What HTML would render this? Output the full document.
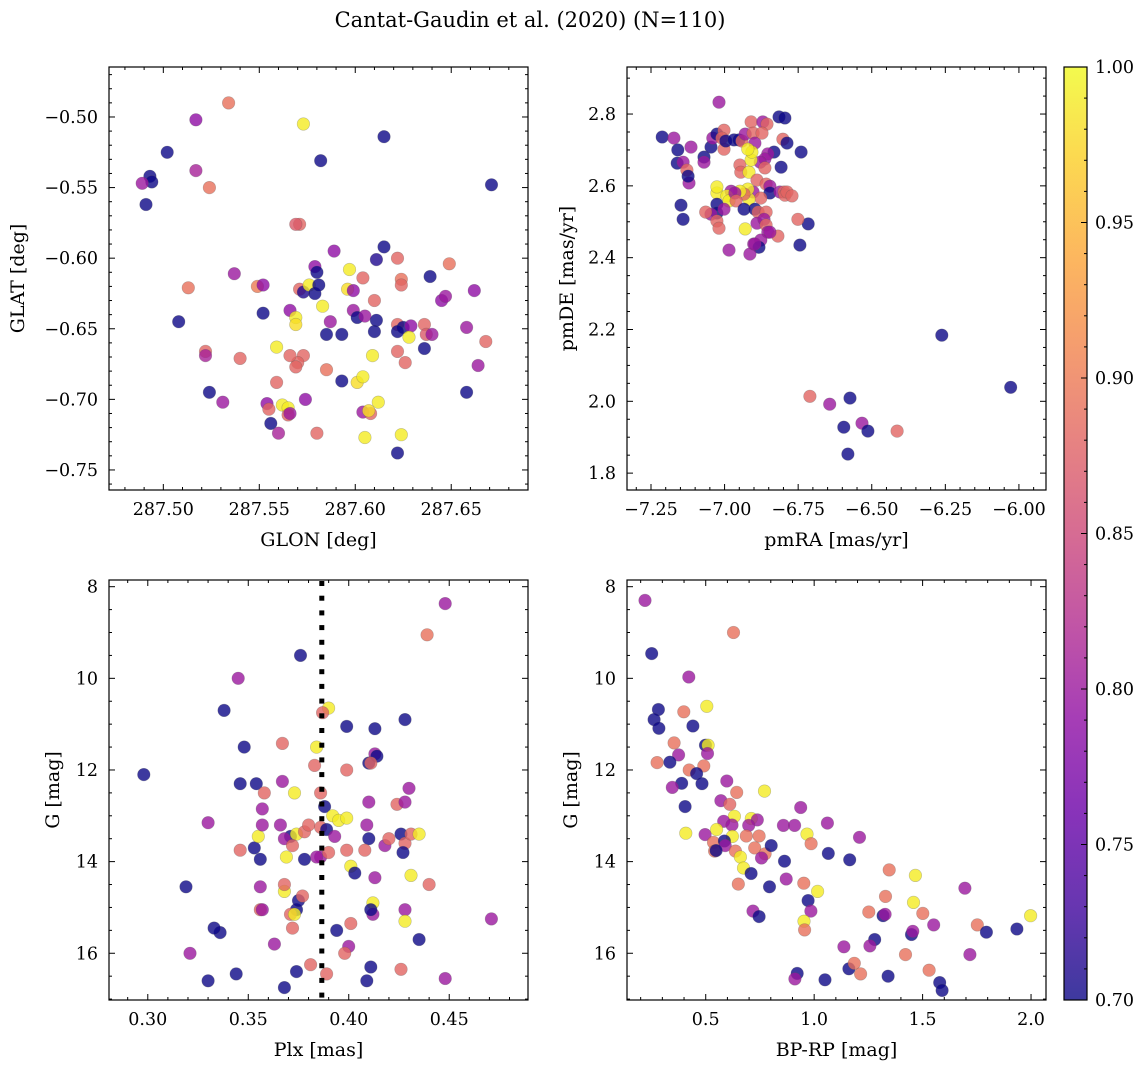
<!DOCTYPE html>
<html><head><meta charset="utf-8"><style>
html,body{margin:0;padding:0;background:#fff;}
svg{display:block;font-family:"DejaVu Serif","Liberation Serif",serif;}
</style></head><body>
<svg id="fig" width="1148" height="1067" viewBox="0 0 1148 1067">
<defs>
<linearGradient id="plasma" x1="0" y1="1" x2="0" y2="0">
<stop offset="0" stop-color="#0d0887"/><stop offset="0.1" stop-color="#41049d"/><stop offset="0.2" stop-color="#6a00a8"/><stop offset="0.3" stop-color="#8f0da4"/><stop offset="0.4" stop-color="#b12a90"/><stop offset="0.5" stop-color="#cc4778"/><stop offset="0.6" stop-color="#e16462"/><stop offset="0.7" stop-color="#f2844b"/><stop offset="0.8" stop-color="#fca636"/><stop offset="0.9" stop-color="#fcce25"/><stop offset="1" stop-color="#f0f921"/>
</linearGradient>
</defs>
<text x="530" y="27" font-size="21" text-anchor="middle">Cantat-Gaudin et al. (2020) (N=110)</text>
</svg>
<script>
// ---- data ----
const p1Glon=[287.534,287.517,287.573,287.502,287.493,287.494,287.489,287.491,287.517,287.524,287.615,287.582,287.671,287.571,287.569,287.589,287.615,287.611,287.622,287.649,287.537,287.579,287.580,287.597,287.604,287.624,287.624,287.639,287.513,287.549,287.552,287.571,287.573,287.576,287.579,287.581,287.596,287.599,287.645,287.647,287.662,287.566,287.569,287.552,287.583,287.599,287.610,287.601,287.605,287.611,287.622,287.625,287.622,287.636,287.637,287.640,287.629,287.569,287.587,287.585,287.508,287.593,287.610,287.628,287.622,287.636,287.658,287.668,287.664,287.522,287.522,287.540,287.573,287.570,287.569,287.566,287.559,287.585,287.609,287.626,287.593,287.601,287.604,287.559,287.524,287.604,287.608,287.612,287.607,287.531,287.554,287.555,287.562,287.565,287.565,287.574,287.556,287.566,287.580,287.560,287.605,287.624,287.622,287.658];
const p1Glat=[-0.490,-0.502,-0.505,-0.525,-0.542,-0.546,-0.547,-0.562,-0.538,-0.550,-0.514,-0.531,-0.548,-0.576,-0.576,-0.595,-0.592,-0.601,-0.600,-0.604,-0.611,-0.606,-0.610,-0.608,-0.614,-0.615,-0.619,-0.613,-0.621,-0.620,-0.619,-0.622,-0.624,-0.619,-0.625,-0.619,-0.622,-0.623,-0.630,-0.627,-0.623,-0.637,-0.642,-0.639,-0.634,-0.637,-0.630,-0.642,-0.641,-0.644,-0.647,-0.649,-0.652,-0.647,-0.654,-0.654,-0.648,-0.647,-0.645,-0.654,-0.645,-0.654,-0.652,-0.656,-0.666,-0.664,-0.649,-0.659,-0.676,-0.666,-0.669,-0.671,-0.669,-0.674,-0.677,-0.669,-0.663,-0.679,-0.669,-0.674,-0.687,-0.688,-0.684,-0.688,-0.695,-0.709,-0.710,-0.702,-0.708,-0.702,-0.703,-0.707,-0.704,-0.706,-0.711,-0.700,-0.717,-0.710,-0.724,-0.724,-0.727,-0.725,-0.738,-0.695];
const p1Prob=[0.89,0.79,0.99,0.70,0.70,0.70,0.80,0.70,0.81,0.89,0.70,0.70,0.70,0.88,0.87,0.79,0.70,0.71,0.88,0.89,0.80,0.79,0.70,0.99,0.88,0.89,0.88,0.70,0.89,0.90,0.79,0.88,0.71,0.99,0.70,0.70,0.98,0.79,0.79,0.80,0.79,0.79,0.99,0.70,0.99,0.80,0.88,0.70,0.80,0.70,0.88,0.70,0.70,0.88,0.87,0.80,0.79,0.98,0.80,0.70,0.70,0.70,0.70,0.99,0.88,0.70,0.80,0.88,0.80,0.88,0.81,0.88,0.88,0.88,0.88,0.88,0.99,0.89,0.99,0.88,0.70,0.98,0.99,0.88,0.70,0.80,0.88,0.99,0.98,0.80,0.79,0.88,0.99,0.99,0.88,0.79,0.70,0.80,0.88,0.81,0.99,0.99,0.70,0.70];

const p2Pmra=[-7.019,-7.212,-7.172,-7.159,-7.161,-7.141,-7.114,-7.128,-7.121,-7.124,-7.148,-7.141,-7.070,-7.070,-7.046,-7.040,-7.026,-7.002,-7.002,-7.009,-6.996,-6.968,-6.951,-6.941,-6.930,-6.910,-6.903,-6.897,-6.870,-6.856,-6.873,-6.815,-6.795,-6.802,-6.788,-6.832,-6.740,-6.853,-6.863,-6.879,-6.808,-6.863,-6.948,-6.945,-6.917,-6.910,-6.907,-6.921,-6.890,-6.859,-6.846,-6.846,-6.812,-6.798,-6.795,-6.788,-6.771,-6.903,-6.877,-6.917,-6.921,-6.934,-6.948,-6.978,-7.026,-7.026,-6.992,-6.985,-6.965,-6.961,-7.026,-7.026,-7.002,-7.046,-7.064,-7.026,-7.019,-6.934,-6.897,-6.886,-6.890,-6.859,-6.866,-6.859,-6.853,-6.819,-6.846,-6.930,-6.901,-6.877,-6.883,-6.914,-6.897,-6.985,-6.716,-6.744,-6.751,-6.262,-6.028,-6.710,-6.643,-6.574,-6.533,-6.595,-6.513,-6.414,-6.581];
const p2Pmde=[2.833,2.736,2.733,2.700,2.663,2.666,2.708,2.644,2.608,2.627,2.546,2.507,2.680,2.666,2.708,2.733,2.744,2.755,2.702,2.733,2.725,2.728,2.728,2.725,2.744,2.778,2.747,2.719,2.778,2.772,2.747,2.792,2.789,2.730,2.719,2.694,2.694,2.689,2.675,2.666,2.652,2.650,2.658,2.638,2.638,2.672,2.694,2.702,2.616,2.605,2.599,2.580,2.583,2.583,2.574,2.583,2.572,2.583,2.566,2.563,2.591,2.577,2.585,2.585,2.580,2.597,2.572,2.558,2.580,2.558,2.549,2.524,2.535,2.521,2.527,2.502,2.482,2.535,2.535,2.527,2.496,2.527,2.507,2.491,2.471,2.460,2.471,2.480,2.438,2.449,2.429,2.410,2.438,2.421,2.494,2.435,2.507,2.184,2.039,2.014,1.992,2.009,1.939,1.928,1.917,1.917,1.853];
const p2Prob=[0.80,0.70,0.80,0.70,0.70,0.80,0.80,0.88,0.80,0.70,0.70,0.70,0.70,0.80,0.70,0.80,0.70,0.88,0.88,0.88,0.70,0.70,0.70,0.88,0.80,0.88,0.88,0.80,0.80,0.88,0.88,0.70,0.70,0.88,0.70,0.70,0.70,0.80,0.80,0.80,0.70,0.88,0.88,0.88,0.99,0.99,0.99,0.99,0.88,0.88,0.80,0.70,0.80,0.88,0.88,0.88,0.88,0.80,0.88,0.99,0.99,0.88,0.99,0.80,0.99,0.99,0.99,0.99,0.80,0.88,0.70,0.70,0.80,0.80,0.88,0.88,0.88,0.70,0.70,0.88,0.80,0.88,0.80,0.88,0.80,0.88,0.80,0.99,0.80,0.80,0.70,0.80,0.80,0.80,0.70,0.70,0.88,0.70,0.70,0.88,0.80,0.70,0.80,0.70,0.70,0.88,0.70];

const p3Plx=[0.448,0.439,0.376,0.345,0.390,0.387,0.338,0.399,0.413,0.348,0.367,0.384,0.413,0.414,0.428,0.298,0.383,0.399,0.410,0.411,0.346,0.354,0.358,0.373,0.386,0.430,0.367,0.388,0.357,0.424,0.428,0.330,0.366,0.371,0.368,0.374,0.378,0.380,0.386,0.389,0.392,0.395,0.399,0.393,0.409,0.410,0.418,0.420,0.426,0.428,0.431,0.435,0.427,0.386,0.390,0.399,0.408,0.401,0.403,0.413,0.440,0.431,0.412,0.428,0.412,0.428,0.411,0.435,0.401,0.394,0.400,0.398,0.426,0.411,0.448,0.409,0.471,0.381,0.389,0.374,0.368,0.344,0.330,0.321,0.319,0.336,0.333,0.363,0.356,0.357,0.374,0.372,0.371,0.373,0.375,0.377,0.368,0.368,0.356,0.356,0.353,0.346,0.355,0.369,0.378,0.372,0.384,0.357,0.410];
const p3G=[8.37,9.05,9.50,10.00,10.65,10.75,10.70,11.05,11.10,11.50,11.42,11.50,11.65,11.70,10.90,12.10,11.90,12.00,11.85,11.85,12.30,12.30,12.50,12.50,12.50,12.40,12.25,12.80,12.85,12.75,12.70,13.15,13.20,13.45,13.50,13.40,13.35,13.20,13.25,13.30,13.00,13.10,13.05,13.45,13.20,13.50,13.65,13.50,13.40,13.60,13.40,13.40,13.80,13.90,13.80,13.75,13.75,14.10,14.25,14.35,14.50,14.30,14.90,15.05,15.15,15.30,15.05,15.70,15.35,15.50,15.85,16.00,16.35,16.30,16.55,16.60,15.25,16.25,16.45,16.40,16.75,16.45,16.60,16.00,14.55,15.55,15.45,15.80,15.05,15.05,15.05,15.45,15.15,15.15,14.85,14.75,14.65,14.50,14.55,13.95,13.70,13.75,13.45,13.90,13.95,13.65,13.90,13.20,12.70];
const p3Prob=[0.80,0.89,0.70,0.80,0.99,0.88,0.70,0.70,0.70,0.70,0.88,0.99,0.80,0.70,0.70,0.70,0.88,0.88,0.70,0.88,0.70,0.70,0.88,0.99,0.88,0.80,0.80,0.70,0.80,0.88,0.80,0.80,0.80,0.70,0.80,0.99,0.88,0.88,0.88,0.70,0.99,0.99,0.99,0.80,0.80,0.70,0.80,0.88,0.70,0.88,0.88,0.99,0.70,0.80,0.88,0.88,0.88,0.99,0.70,0.80,0.88,0.99,0.99,0.80,0.80,0.99,0.70,0.70,0.88,0.70,0.80,0.88,0.88,0.70,0.80,0.70,0.80,0.88,0.88,0.70,0.70,0.70,0.70,0.80,0.70,0.70,0.70,0.80,0.88,0.80,0.70,0.88,0.88,0.99,0.70,0.88,0.99,0.88,0.80,0.70,0.70,0.88,0.99,0.99,0.70,0.88,0.80,0.80,0.80];

const p4Bprp=[0.220,0.628,0.251,0.422,0.282,0.505,0.399,0.262,0.284,0.441,0.499,0.511,0.508,0.354,0.375,0.276,0.335,0.491,0.424,0.458,0.389,0.483,0.346,0.597,0.643,0.771,0.405,0.570,0.611,0.938,1.061,1.209,0.632,0.583,0.710,0.738,0.698,0.621,0.858,0.910,0.967,0.408,0.497,0.550,0.623,0.687,0.746,0.536,0.586,0.590,0.541,0.548,0.637,0.726,0.774,0.757,0.802,0.660,0.986,1.065,1.164,0.863,0.674,0.709,0.871,0.650,0.794,0.952,1.016,0.972,1.346,1.467,1.695,1.329,1.458,0.985,0.718,0.746,1.252,1.318,1.327,1.501,1.551,1.752,1.998,0.953,0.956,1.794,1.935,1.449,1.455,1.279,1.257,1.137,1.421,1.718,1.160,1.185,1.214,1.530,0.922,0.911,1.050,1.341,1.579,1.590];
const p4G=[8.30,9.00,9.46,9.97,10.68,10.61,10.73,10.90,11.09,11.04,11.46,11.46,11.64,11.41,11.67,11.84,11.83,11.91,12.00,12.08,12.29,12.30,12.38,12.24,12.49,12.46,12.80,12.67,12.75,12.82,13.16,13.47,13.01,13.12,13.06,13.09,13.21,13.20,13.21,13.21,13.40,13.38,13.41,13.30,13.45,13.44,13.44,13.58,13.55,13.65,13.77,13.76,13.77,13.70,13.83,13.92,13.65,13.90,13.61,13.82,13.96,13.99,14.14,14.26,14.38,14.49,14.55,14.47,14.65,14.85,14.18,14.30,14.58,14.76,14.89,15.08,15.08,15.20,15.10,15.18,15.15,15.13,15.38,15.38,15.18,15.30,15.49,15.54,15.47,15.59,15.52,15.70,15.84,15.86,16.03,16.03,16.34,16.22,16.45,16.37,16.44,16.56,16.58,16.50,16.64,16.81];
const p4Prob=[0.80,0.89,0.70,0.80,0.70,0.99,0.89,0.70,0.70,0.70,0.70,0.99,0.80,0.89,0.80,0.89,0.70,0.89,0.89,0.70,0.70,0.70,0.80,0.80,0.89,0.99,0.70,0.80,0.88,0.80,0.80,0.80,0.99,0.80,0.99,0.80,0.80,0.80,0.80,0.80,0.99,0.99,0.80,0.99,0.99,0.89,0.89,0.89,0.70,0.80,0.89,0.70,0.89,0.89,0.89,0.80,0.70,0.99,0.89,0.70,0.70,0.70,0.99,0.70,0.80,0.89,0.70,0.89,0.99,0.70,0.89,0.99,0.80,0.89,0.99,0.80,0.80,0.70,0.89,0.70,0.80,0.89,0.80,0.89,0.99,0.99,0.89,0.70,0.70,0.70,0.80,0.70,0.80,0.80,0.89,0.80,0.70,0.89,0.89,0.89,0.70,0.80,0.70,0.70,0.70,0.70];

const plxLine=0.3866;
const cbTicks=[0.70,0.75,0.80,0.85,0.90,0.95,1.00];

// ---- rendering ----
const NS='http://www.w3.org/2000/svg';
const svg=document.getElementById('fig');
function mk(tag,attrs,parent){const e=document.createElementNS(NS,tag);for(const k in attrs)e.setAttribute(k,attrs[k]);(parent||svg).appendChild(e);return e;}
const stops=[[13,8,135],[65,4,157],[106,0,168],[143,13,164],[177,42,144],[204,71,120],[225,100,98],[242,132,75],[252,166,54],[252,206,37],[240,249,33]];
function plasma(v){let t=(v-0.7)/0.3;t=Math.max(0,Math.min(1,t));const f=t*10,i=Math.min(9,Math.floor(f)),r=f-i;const a=stops[i],b=stops[i+1];return 'rgb('+[0,1,2].map(k=>Math.round(a[k]+(b[k]-a[k])*r)).join(',')+')';}
function fmt(v,d){const s=Math.abs(v).toFixed(d);return (v<-1e-9?'\u2212':'')+s;}
const TF=17.5, LF=19;

function panel(o){
  const g=mk('g',{});
  
  
  const sx=v=>o.L+(v-o.x0)/(o.x1-o.x0)*(o.R-o.L);
  const sy=v=>o.yinv? o.T+(v-o.y0)/(o.y1-o.y0)*(o.B-o.T) : o.B-(v-o.y0)/(o.y1-o.y0)*(o.B-o.T);
  const pg=mk('g',{},g);
  
  
  for(let i=0;i<o.xs.length;i++){
    const c=mk('circle',{cx:sx(o.xs[i]).toFixed(1),cy:sy(o.ys[i]).toFixed(1),r:6.3,fill:plasma(o.cs[i]),'fill-opacity':0.8,stroke:'#555','stroke-opacity':0.35,'stroke-width':0.6},pg);
    
    
  }
  if(o.vline!==undefined){
    const lg=mk('g',{fill:'#000'},g);
    
    
    const lx=sx(o.vline);
    for(let y=o.T+1;y<o.B-2;y+=14.7){
      mk('rect',{x:(lx-2.5).toFixed(1),y:y.toFixed(1),width:5,height:5},lg);
    }
  }
  const fr=mk('rect',{x:o.L,y:o.T,width:o.R-o.L,height:o.B-o.T,fill:'none',stroke:'#000','stroke-width':1.2},g);
  
  
  const tg=mk('g',{stroke:'#000','stroke-width':1},g);
  const eps=1e-9;
  const xmin=Math.min(o.x0,o.x1),xmax=Math.max(o.x0,o.x1);
  for(let k=Math.ceil(xmin/o.xminor-eps);k*o.xminor<=xmax+eps;k++){
    const v=k*o.xminor;
    const isMaj=Math.abs(v/o.xmajor-Math.round(v/o.xmajor))<1e-4;const len=isMaj?6:3;const x=sx(v);
    mk('line',{x1:x,x2:x,y1:o.B,y2:o.B-len},tg);mk('line',{x1:x,x2:x,y1:o.T,y2:o.T+len},tg);
  }
  const ymin=Math.min(o.y0,o.y1),ymax=Math.max(o.y0,o.y1);
  for(let k=Math.ceil(ymin/o.yminor-eps);k*o.yminor<=ymax+eps;k++){
    const v=k*o.yminor;
    const isMaj=Math.abs(v/o.ymajor-Math.round(v/o.ymajor))<1e-4;const len=isMaj?6:3;const y=sy(v);
    mk('line',{x1:o.L,x2:o.L+len,y1:y,y2:y},tg);mk('line',{x1:o.R,x2:o.R-len,y1:y,y2:y},tg);
  }
  for(const v of o.xt){const t=mk('text',{x:sx(v),y:o.B+25,'font-size':TF,'text-anchor':'middle'},g);t.textContent=fmt(v,o.xd);
    
    }
  for(const v of o.yt){const t=mk('text',{x:o.L-11,y:sy(v)+6,'font-size':TF,'text-anchor':'end'},g);t.textContent=fmt(v,o.yd);
    
    }
  const xl=mk('text',{x:(o.L+o.R)/2,y:o.B+56,'font-size':LF,'text-anchor':'middle'},g);xl.textContent=o.xlabel;
  
  
  const yl=mk('text',{x:0,y:0,'font-size':LF,'text-anchor':'middle',transform:'translate('+o.ylx+','+(o.T+o.B)/2+') rotate(-90)'},g);yl.textContent=o.ylabel;
  
  
}

panel({name:'glon-glat-panel',L:109,R:528,T:67,B:490,x0:287.4717,x1:287.690,y0:-0.7642,y1:-0.4646,xs:p1Glon,ys:p1Glat,cs:p1Prob,xmajor:0.05,xminor:0.01,ymajor:0.05,yminor:0.01,xt:[287.50,287.55,287.60,287.65],yt:[-0.50,-0.55,-0.60,-0.65,-0.70,-0.75],xd:2,yd:2,xlabel:'GLON [deg]',ylabel:'GLAT [deg]',ylx:24});
panel({name:'proper-motion-panel',L:627,R:1046,T:67,B:490,x0:-7.3315,x1:-5.908,y0:1.753,y1:2.931,xs:p2Pmra,ys:p2Pmde,cs:p2Prob,xmajor:0.25,xminor:0.05,ymajor:0.2,yminor:0.05,xt:[-7.25,-7.00,-6.75,-6.50,-6.25,-6.00],yt:[1.8,2.0,2.2,2.4,2.6,2.8],xd:2,yd:1,xlabel:'pmRA [mas/yr]',ylabel:'pmDE [mas/yr]',ylx:573});
panel({name:'parallax-mag-panel',L:109,R:528,T:580,B:1000,x0:0.2807,x1:0.4892,y0:7.854,y1:17.02,yinv:true,xs:p3Plx,ys:p3G,cs:p3Prob,xmajor:0.05,xminor:0.01,ymajor:2,yminor:0.5,xt:[0.30,0.35,0.40,0.45],yt:[8,10,12,14,16],xd:2,yd:0,xlabel:'Plx [mas]',ylabel:'G [mag]',ylx:59,vline:plxLine});
panel({name:'color-mag-panel',L:627,R:1046,T:580,B:1000,x0:0.137,x1:2.069,y0:7.854,y1:17.02,yinv:true,xs:p4Bprp,ys:p4G,cs:p4Prob,xmajor:0.5,xminor:0.1,ymajor:2,yminor:0.5,xt:[0.5,1.0,1.5,2.0],yt:[8,10,12,14,16],xd:1,yd:0,xlabel:'BP-RP [mag]',ylabel:'G [mag]',ylx:577});

// colorbar
const cb=mk('g',{});


const CL=1064,CR=1087,CT=67,CB=1000;
mk('rect',{x:CL,y:CT,width:CR-CL,height:CB-CT,fill:'url(#plasma)','fill-opacity':0.8},cb);
mk('rect',{x:CL,y:CT,width:CR-CL,height:CB-CT,fill:'none',stroke:'#000','stroke-width':1.2},cb);
const cy=v=>CB-(v-0.7)/0.3*(CB-CT);
for(let k=0;k<=30;k++){const v=0.70+k*0.01;const maj=k%5===0;mk('line',{x1:CR,x2:CR-(maj?6:3),y1:cy(v),y2:cy(v),stroke:'#000','stroke-width':1},cb);}
for(const v of cbTicks){const t=mk('text',{x:CR+8,y:cy(v)+6,'font-size':TF},cb);t.textContent=v.toFixed(2);
  
  }
</script>
</body></html>
